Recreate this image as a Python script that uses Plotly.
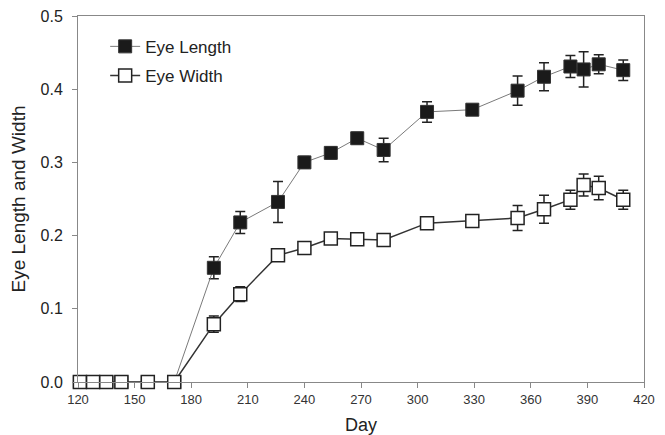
import plotly.graph_objects as go

days = [121, 128, 135, 143, 157, 171, 192, 206, 226, 240, 254, 268, 282, 305,
        329, 353, 367, 381, 388, 396, 409]
eye_length = [0, 0, 0, 0, 0, 0, 0.156, 0.218, 0.246, 0.300, 0.313, 0.333, 0.317,
              0.369, 0.372, 0.398, 0.417, 0.431, 0.427, 0.434, 0.426]
eye_length_err = [0, 0, 0, 0, 0, 0, 0.015, 0.015, 0.028, 0.008, 0.008, 0.008, 0.016,
                  0.014, 0.004, 0.020, 0.019, 0.015, 0.024, 0.013, 0.014]
eye_width = [0, 0, 0, 0, 0, 0, 0.079, 0.120, 0.173, 0.183, 0.196, 0.195, 0.194,
             0.217, 0.220, 0.224, 0.236, 0.249, 0.269, 0.265, 0.249]
eye_width_err = [0, 0, 0, 0, 0, 0, 0.011, 0.010, 0.004, 0.003, 0.004, 0.008, 0.004,
                 0.004, 0.004, 0.017, 0.019, 0.013, 0.015, 0.016, 0.013]
x_ticks = [120, 150, 180, 210, 240, 270, 300, 330, 360, 390, 420]
y_ticks = [0.0, 0.1, 0.2, 0.3, 0.4, 0.5]

FONT = "Liberation Sans, Arial, sans-serif"

fig = go.Figure()
fig.add_trace(go.Scatter(
    x=days, y=eye_length, name="Eye Length", mode="lines+markers",
    legendgroup="len",
    line=dict(color="#7a7a7a", width=1),
    marker=dict(symbol="square", size=13, color="#1a1a1a",
                line=dict(color="#333333", width=1)),
    error_y=dict(type="data", array=eye_length_err, visible=True,
                 color="#222222", thickness=1.5, width=5),
    cliponaxis=False,
))
fig.add_trace(go.Scatter(
    x=days, y=eye_width, name="Eye Width", mode="lines+markers",
    legendgroup="wid",
    line=dict(color="#333333", width=1.5),
    marker=dict(symbol="square", size=13, color="white",
                line=dict(color="#222222", width=1.5)),
    error_y=dict(type="data", array=eye_width_err, visible=True,
                 color="#222222", thickness=1.5, width=5),
    cliponaxis=False,
))

# page body has an 8px default margin, so the figure is offset by 8px
fig.update_layout(
    width=657, height=427,
    margin=dict(l=70, r=21, t=8, b=53),
    paper_bgcolor="white", plot_bgcolor="white",
    font=dict(family=FONT, color="#222222"),
    showlegend=True,
    legend=dict(x=0.048, y=0.965, xanchor="left", yanchor="top",
                bgcolor="rgba(0,0,0,0)", font=dict(size=17, color="#222222"),
                itemwidth=30, tracegroupgap=4),
    xaxis=dict(range=[120, 420], tickvals=x_ticks, ticks="outside", ticklen=5,
               automargin=False, ticklabeloverflow="allow",
               tickcolor="#888888", showline=True, linecolor="#888888",
               linewidth=1, mirror=True, showgrid=False, zeroline=False,
               tickfont=dict(size=13, color="#333333"),
               title=dict(text="Day", font=dict(size=18, color="#222222"),
                          standoff=12)),
    yaxis=dict(range=[0, 0.5], tickvals=y_ticks, tickformat=".1f",
               automargin=False, ticklabeloverflow="allow",
               ticks="outside", ticklen=5, tickcolor="#888888",
               ticklabelstandoff=6,
               showline=True, linecolor="#888888", linewidth=1, mirror=True,
               showgrid=False, zeroline=False,
               tickfont=dict(size=16, color="#222222"),
               title=dict(text="Eye Length and Width",
                          font=dict(size=19, color="#222222"), standoff=10)),
)

fig.write_html("out.html")
